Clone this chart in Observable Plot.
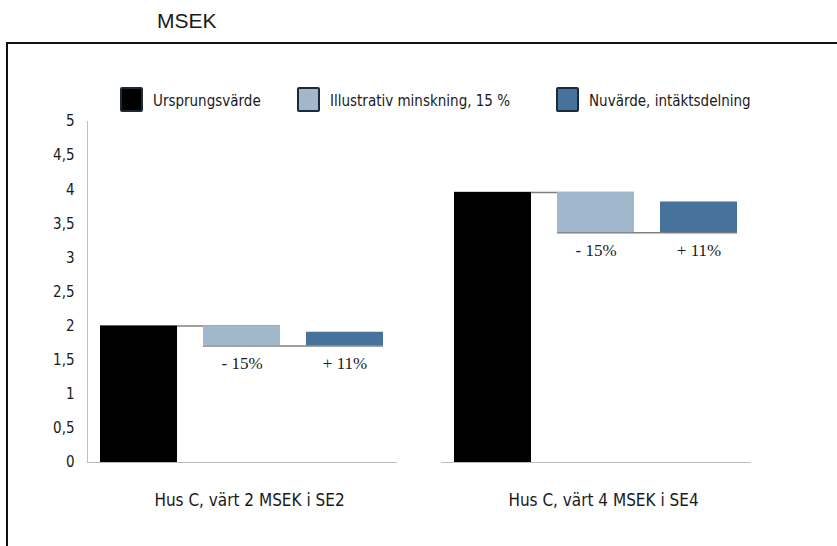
<!DOCTYPE html>
<html>
<head>
<meta charset="utf-8">
<script src="https://cdn.jsdelivr.net/npm/d3@7"></script>
<script src="https://cdn.jsdelivr.net/npm/@observablehq/plot@0.6"></script>
<style>
  body { margin: 0; background: #fff; }
  #wrap { position: relative; width: 837px; height: 546px; overflow: hidden; background: #fff;
          font-family: "Liberation Sans Narrow", "DejaVu Sans Condensed", "Arial Narrow", sans-serif; color: #1a1a1a; }
  #title { position: absolute; left: 157px; top: 9px; font: 21px "Liberation Sans", Arial, sans-serif; color: #1a1a1a; }
  #frame { position: absolute; left: 6px; top: 42px; right: -10px; bottom: -10px;
           border-top: 2px solid #111; border-left: 2px solid #111; }
  #chart { position: absolute; left: 0; top: 100px; }
  .item { position: absolute; top: 87px; display: flex; align-items: flex-start; }
  .sw { width: 23px; height: 25px; box-sizing: border-box; border: 2px solid #1c2a3a; border-radius: 2px; margin-right: 10px; }
  .lab { margin-top: 4px; font-size: 15px; line-height: 20px; white-space: nowrap; }
</style>
</head>
<body>
<div id="wrap">
  <div id="frame"></div>
  <div id="chart"></div>
  <div id="title">MSEK</div>
  <div id="legend"></div>
</div>
<script>
// ---- data ----
const houses = ["Hus C, värt 2 MSEK i SE2", "Hus C, värt 4 MSEK i SE4"];
const steps = ["Ursprungsvärde", "Illustrativ minskning, 15 %", "Nuvärde, intäktsdelning"];
const stepColors = ["#000000", "#a1b7cb", "#46729b"];
const originalValues = [2.0, 3.96];
const reducedValues = [1.71, 3.37];
const currentValues = [1.91, 3.82];
const stepLabels = ["", "- 15%", "+ 11%"];
const yTicks = [0, 0.5, 1, 1.5, 2, 2.5, 3, 3.5, 4, 4.5, 5];
const legendX = [120, 297, 556];

// ---- tables built from the arrays ----
const rows = houses.flatMap((h, i) => [
  {house: h, step: steps[0], y1: 0, y2: originalValues[i], label: stepLabels[0]},
  {house: h, step: steps[1], y1: reducedValues[i], y2: originalValues[i], label: stepLabels[1]},
  {house: h, step: steps[2], y1: reducedValues[i], y2: currentValues[i], label: stepLabels[2]}
]);
const connectors = houses.flatMap((h, i) => [
  {house: h, from: steps[0], to: steps[1], level: originalValues[i]},
  {house: h, from: steps[1], to: steps[2], level: reducedValues[i]}
]);

// ---- legend ----
const legend = document.getElementById("legend");
steps.forEach((s, i) => {
  const item = document.createElement("div");
  item.className = "item";
  item.style.left = legendX[i] + "px";
  const sw = document.createElement("div");
  sw.className = "sw";
  sw.style.background = stepColors[i];
  const lab = document.createElement("div");
  lab.className = "lab";
  lab.textContent = s;
  item.append(sw, lab);
  legend.append(item);
});

const condensed = '"Liberation Sans Narrow", "DejaVu Sans Condensed", "Arial Narrow", sans-serif';

const chart = Plot.plot({
  width: 837,
  height: 446,
  marginLeft: 87,
  marginRight: 86,
  marginTop: 21,
  marginBottom: 84,
  style: {background: "transparent", fontFamily: condensed, color: "#1a1a1a", overflow: "visible"},
  fx: {domain: houses, paddingInner: 0.1243, paddingOuter: 0, label: null},
  x: {domain: steps, paddingInner: 0.25, paddingOuter: 0.12, axis: null},
  y: {domain: [0, 5], label: null},
  color: {domain: steps, range: stepColors},
  marks: [
    Plot.frame({anchor: "left", facetAnchor: "left", stroke: "#c0c0c0"}),
    Plot.ruleY([0], {stroke: "#bdbdbd", strokeWidth: 1.2}),
    Plot.ruleY(connectors, {fx: "house", x1: "from", x2: "to", y: "level", stroke: "#808080", strokeWidth: 1.5}),
    Plot.barY(rows, {fx: "house", x: "step", y1: "y1", y2: "y2", fill: "step"}),
    Plot.text(rows, {filter: d => d.label, fx: "house", x: "step", y: "y1", text: "label", dy: 18,
      fontFamily: '"Liberation Serif", "Times New Roman", serif', fontSize: 17, fill: "#1a1a1a"}),
    Plot.axisY({ticks: yTicks, tickFormat: d => String(d).replace(".", ","), tickSize: 0, tickPadding: 13, fontSize: 15, label: null}),
    Plot.axisFx({anchor: "bottom", tickSize: 0, tickPadding: 31, fontSize: 17, label: null, dx: 7})
  ]
});
document.getElementById("chart").append(chart);
</script>
</body>
</html>
